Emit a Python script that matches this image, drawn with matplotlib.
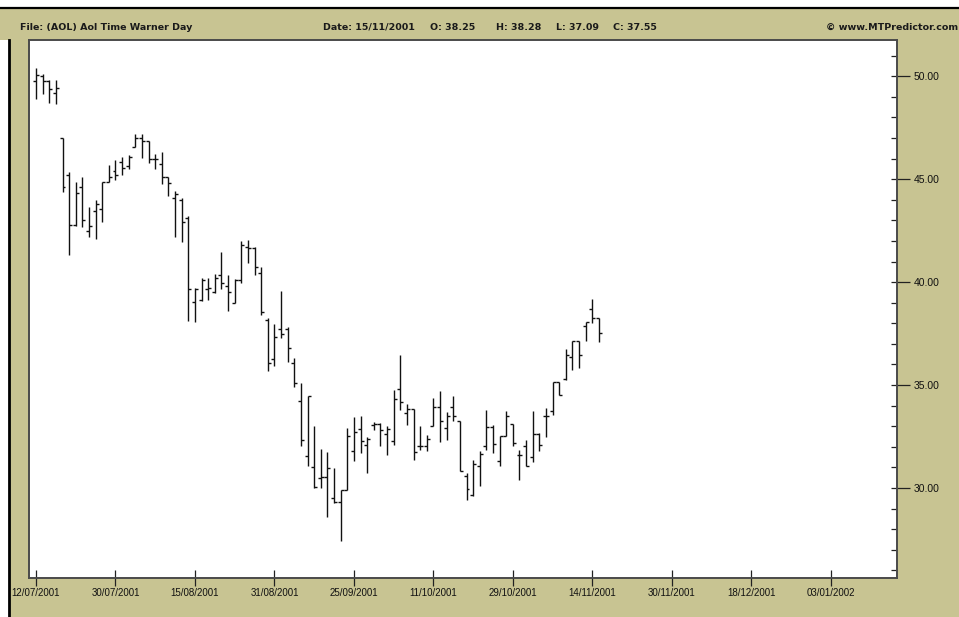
import numpy as np
import matplotlib.pyplot as plt
from matplotlib.patches import Rectangle
from matplotlib.lines import Line2D

# AOL Time Warner daily bars, one per trading day from 12/07/2001 to 15/11/2001
opens = [49.79, 50.01, 49.79, 49.17, 47.02, 45.18, 42.78, 44.64, 42.50, 43.46,
         43.54, 44.88, 45.42, 45.85, 45.64, 46.58, 46.99, 46.87, 45.97, 45.74,
         45.09, 44.11, 43.99, 43.10, 39.05, 39.14, 39.66, 39.51, 40.36, 39.79,
         39.01, 40.08, 41.70, 41.65, 40.44, 38.17, 36.26, 37.72, 37.73, 36.07,
         34.21, 31.54, 31.00, 30.48, 30.53, 29.51, 29.30, 29.89, 31.81, 32.86,
         32.07, 33.04, 33.12, 32.62, 32.30, 34.81, 33.64, 33.83, 32.05, 32.05,
         33.03, 33.92, 32.91, 33.92, 33.24, 30.60, 29.68, 31.08, 32.05, 32.94,
         31.29, 32.54, 33.12, 31.62, 32.05, 31.53, 32.63, 33.51, 33.72, 35.17,
         35.29, 36.36, 37.15, 37.88, 38.69, 38.25]
highs = [50.39, 50.11, 49.82, 49.82, 47.02, 45.37, 44.85, 45.13, 43.67, 43.99,
         44.88, 45.69, 45.94, 46.10, 46.18, 47.20, 47.20, 46.87, 46.23, 46.34,
         45.09, 44.43, 44.07, 43.22, 39.72, 40.19, 40.19, 40.40, 41.44, 40.36,
         40.15, 42.01, 42.05, 41.70, 40.73, 38.25, 37.96, 39.58, 37.81, 36.31,
         35.10, 34.48, 32.99, 31.89, 31.73, 30.97, 29.92, 32.91, 33.45, 33.51,
         32.50, 33.23, 33.15, 33.03, 34.77, 36.47, 34.09, 33.83, 32.99, 32.59,
         34.37, 34.69, 33.67, 34.48, 33.24, 30.73, 31.34, 31.78, 33.80, 33.07,
         32.54, 33.72, 33.12, 31.86, 32.34, 33.72, 32.67, 33.88, 35.17, 35.17,
         36.74, 37.16, 37.16, 38.04, 39.17, 38.28]
lows = [48.88, 49.12, 48.72, 48.64, 44.37, 41.32, 42.75, 42.70, 42.21, 42.08,
        42.91, 44.88, 44.97, 45.21, 45.50, 46.55, 46.02, 45.77, 45.50, 44.75,
        44.16, 42.21, 41.97, 38.09, 38.04, 39.06, 39.14, 39.47, 39.66, 38.61,
        38.98, 39.95, 40.92, 40.36, 38.41, 35.66, 35.91, 37.28, 36.10, 34.90,
        32.02, 31.08, 30.00, 30.00, 28.59, 29.27, 27.41, 29.89, 31.29, 31.69,
        30.72, 32.83, 32.02, 31.62, 32.10, 33.77, 33.07, 31.37, 31.86, 31.78,
        33.03, 32.22, 32.35, 33.24, 30.81, 29.43, 29.63, 30.11, 31.86, 31.70,
        31.05, 32.54, 32.05, 30.40, 31.08, 31.24, 31.82, 32.50, 33.56, 34.53,
        35.26, 35.71, 35.82, 37.15, 38.01, 37.09]
closes = [50.06, 49.79, 49.37, 49.45, 44.64, 42.78, 44.32, 43.02, 42.75, 43.78,
          44.88, 45.13, 45.21, 45.53, 46.07, 46.99, 46.87, 45.97, 45.97, 45.09,
          44.83, 44.29, 42.94, 39.66, 39.68, 40.08, 39.70, 40.19, 39.95, 39.51,
          40.08, 41.81, 41.65, 40.73, 38.53, 36.07, 37.33, 37.49, 36.80, 35.10,
          32.31, 34.48, 30.05, 30.53, 30.97, 29.30, 29.89, 32.51, 32.70, 32.26,
          32.38, 33.12, 32.80, 32.86, 34.34, 34.16, 33.83, 31.75, 32.05, 32.38,
          33.92, 33.24, 33.48, 33.51, 30.81, 29.95, 31.18, 31.67, 32.94, 32.14,
          32.54, 33.51, 32.18, 31.62, 31.08, 32.63, 32.07, 33.51, 35.17, 34.53,
          36.47, 37.15, 36.47, 38.04, 38.28, 37.55]

date_labels = ['12/07/2001', '30/07/2001', '15/08/2001', '31/08/2001', '25/09/2001',
               '11/10/2001', '29/10/2001', '14/11/2001', '30/11/2001', '18/12/2001',
               '03/01/2002']
bars_per_label = 12
price_ticks = [30, 35, 40, 45, 50]

tan = '#c8c492'
W, H = 959, 617

fig = plt.figure(figsize=(W / 100, H / 100), dpi=100, facecolor=tan)

def fx(px):
    return px / W

def fy(py):
    return 1 - py / H

# white margins outside the window frame, black frame lines
fig.patches.append(Rectangle((0, fy(8)), 1, 1 - fy(8), transform=fig.transFigure,
                             facecolor='white', edgecolor='none', zorder=-5))
fig.patches.append(Rectangle((0, 0), fx(9), fy(40), transform=fig.transFigure,
                             facecolor='white', edgecolor='none', zorder=-5))
fig.add_artist(Line2D([0, 1], [fy(8), fy(8)], transform=fig.transFigure,
                      color='black', lw=1.6))
fig.add_artist(Line2D([fx(9), fx(9)], [fy(40), 0], transform=fig.transFigure,
                      color='black', lw=2))

# header
hdr = dict(fontsize=6.8, fontweight='bold', color='#1a1a1a', va='center',
           family='DejaVu Sans')
fig.text(fx(20), fy(27), 'File: (AOL) Aol Time Warner Day', **hdr)
fig.text(fx(323), fy(27), 'Date: 15/11/2001', **hdr)
fig.text(fx(430), fy(27), 'O: %.2f' % opens[-1], **hdr)
fig.text(fx(496), fy(27), 'H: %.2f' % highs[-1], **hdr)
fig.text(fx(556), fy(27), 'L: %.2f' % lows[-1], **hdr)
fig.text(fx(613), fy(27), 'C: %.2f' % closes[-1], **hdr)
fig.text(fx(958), fy(27), '\u00a9 www.MTPredictor.com', ha='right', **hdr)

ax = fig.add_axes([fx(29), fy(578), fx(897) - fx(29), fy(40) - fy(578)])
ax.set_facecolor('white')

x = np.arange(len(closes))
tw = 0.45
ax.vlines(x, lows, highs, color='#111111', lw=1.0)
ax.hlines(opens, x - tw, x, color='#111111', lw=1.0)
ax.hlines(closes, x, x + tw, color='#111111', lw=1.0)

ax.set_xlim(-1.06, 130)
ax.set_ylim(25.63, 51.76)

ax.set_xticks(np.arange(len(date_labels)) * bars_per_label)
ax.set_xticklabels(date_labels)
ax.tick_params(axis='x', direction='inout', length=11, width=0.9, color='#222222',
               labelsize=7, pad=2, labelcolor='#111111')

ax.yaxis.tick_right()
ax.set_yticks(price_ticks)
ax.set_yticklabels(['%.2f' % p for p in price_ticks])
ax.set_yticks(np.arange(26, 52), minor=True)
ax.yaxis.remove_overlapping_locs = False
ax.tick_params(axis='y', which='major', direction='out', length=9, width=0.9,
               color='#222222', labelsize=7.5, pad=3, labelcolor='#111111')
ax.tick_params(axis='y', which='minor', direction='in', length=4, width=0.9,
               color='#222222')
for lab in ax.get_xticklabels() + ax.get_yticklabels():
    lab.set_family('Liberation Sans')

for s in ax.spines.values():
    s.set_color('#4a4a4a')
    s.set_linewidth(1.4)

fig.savefig('out.png', dpi=100, facecolor=fig.get_facecolor())
